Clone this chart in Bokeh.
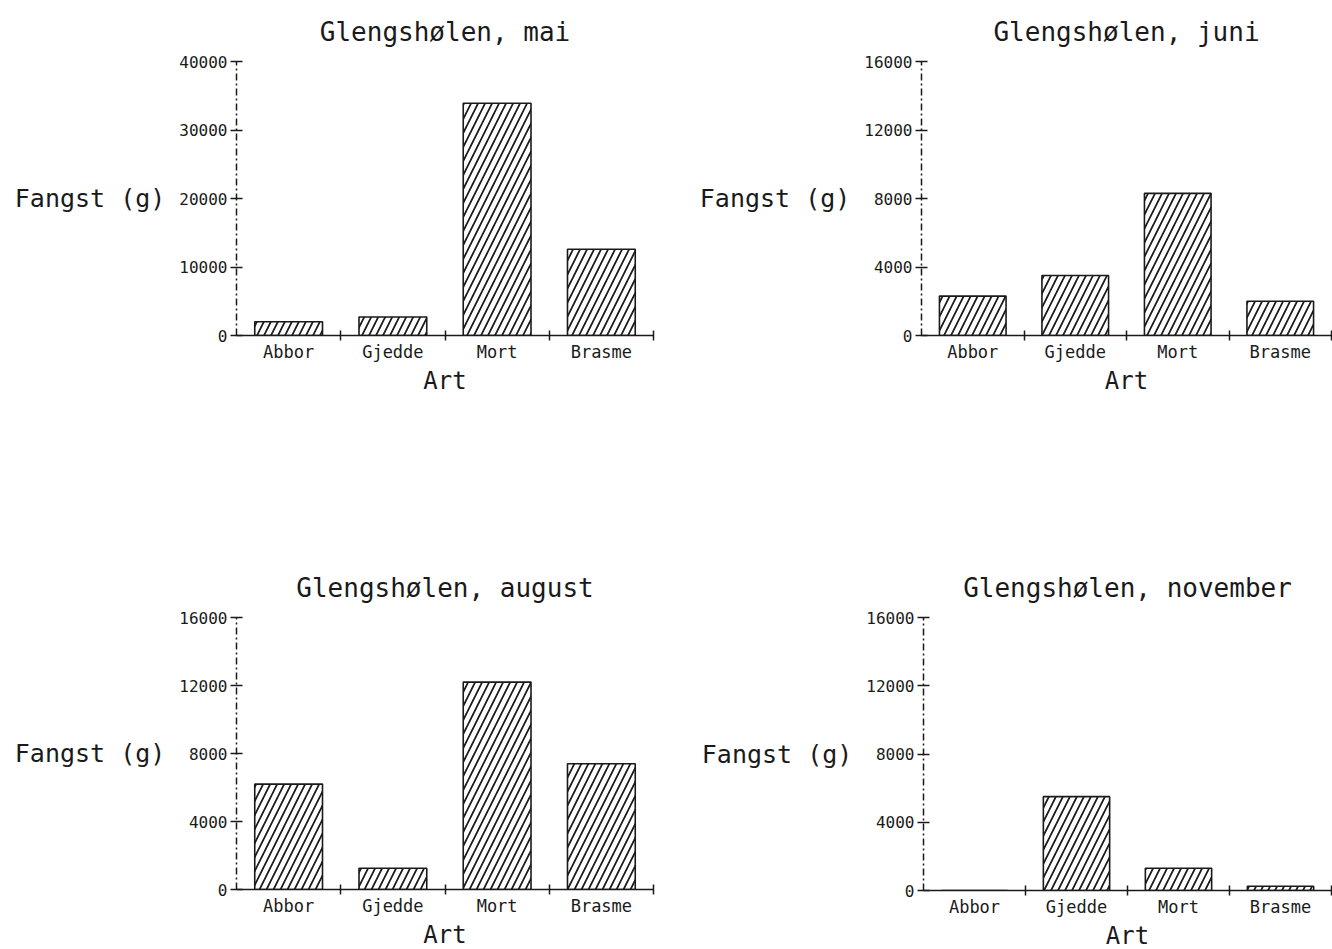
from bokeh.plotting import figure
from bokeh.layouts import column, row
from bokeh.models import Range1d, FixedTicker, Label, NumeralTickFormatter
from bokeh.embed import file_html
from bokeh.resources import INLINE

categories = ["Abbor", "Gjedde", "Mort", "Brasme"]
titles = ["Glengshølen, mai", "Glengshølen, juni",
          "Glengshølen, august", "Glengshølen, november"]
mai = [2000, 2700, 33900, 12600]
juni = [2300, 3500, 8300, 2000]
august = [6200, 1250, 12200, 7400]
november = [0, 5500, 1300, 250]
y_ticks_mai = [0, 10000, 20000, 30000, 40000]
y_ticks_other = [0, 4000, 8000, 12000, 16000]
y_label = "Fangst (g)"
x_label = "Art"

FONT = "DejaVu Sans Mono"
INK = "#1a1a1a"


def panel(title, values, yticks, left, fw, right, top, fh, bottom):
    xs = [i + 0.5 for i in range(len(categories))]
    bounds = [i + 1 for i in range(len(categories))]
    p = figure(frame_width=fw, frame_height=fh,
               min_border_left=left, min_border_right=right,
               min_border_top=top, min_border_bottom=bottom,
               x_range=Range1d(0, len(categories)),
               y_range=Range1d(0, yticks[-1]),
               output_backend="svg", toolbar_location=None)
    p.vbar(x=xs, top=values, width=0.65, fill_color="white",
           line_color=INK, line_width=1.6, hatch_pattern="/",
           hatch_color=INK, hatch_scale=14, hatch_weight=1.7)
    p.xgrid.visible = False
    p.ygrid.visible = False
    p.outline_line_color = None
    p.background_fill_color = "white"
    p.border_fill_color = "white"

    p.title.text = title
    p.title.align = "center"
    p.title.text_font = FONT
    p.title.text_font_size = "26px"
    p.title.text_font_style = "normal"
    p.title.text_color = INK
    p.title.standoff = 29

    xa = p.xaxis[0]
    xa.ticker = FixedTicker(ticks=xs, minor_ticks=bounds)
    xa.major_label_overrides = {x: c for x, c in zip(xs, categories)}
    xa.major_tick_in = 0
    xa.major_tick_out = 0
    xa.minor_tick_in = 5
    xa.minor_tick_out = 5
    xa.minor_tick_line_color = INK
    xa.minor_tick_line_width = 1.5
    xa.axis_line_color = INK
    xa.axis_line_width = 1.5
    xa.major_label_text_font = FONT
    xa.major_label_text_font_size = "17px"
    xa.major_label_text_color = INK
    xa.major_label_standoff = 1
    xa.axis_label = x_label
    xa.axis_label_text_font = FONT
    xa.axis_label_text_font_size = "24px"
    xa.axis_label_text_font_style = "normal"
    xa.axis_label_text_color = INK
    xa.axis_label_standoff = 2

    ya = p.yaxis[0]
    ya.ticker = FixedTicker(ticks=yticks, minor_ticks=[])
    ya.formatter = NumeralTickFormatter(format="0")
    ya.major_tick_in = 6
    ya.major_tick_out = 6
    ya.major_tick_line_color = INK
    ya.major_tick_line_width = 1.5
    ya.minor_tick_in = 0
    ya.minor_tick_out = 0
    ya.axis_line_color = INK
    ya.axis_line_width = 1.5
    ya.axis_line_dash = "7 3 2 3"
    ya.major_label_text_font = FONT
    ya.major_label_text_font_size = "16px"
    ya.major_label_text_color = INK
    ya.major_label_standoff = 3
    ok = False
    try:
        ya.axis_label_orientation = "horizontal"
        ok = True
    except Exception:
        ok = False
    if ok:
        ya.axis_label = y_label
        ya.axis_label_text_font = FONT
        ya.axis_label_text_font_size = "25px"
        ya.axis_label_text_font_style = "normal"
        ya.axis_label_text_color = INK
        ya.axis_label_standoff = 11
    else:
        p.add_layout(Label(x=-72, y=yticks[-1] / 2, x_units="screen",
                           y_units="data", text=y_label, text_align="right",
                           text_baseline="middle", text_font=FONT,
                           text_font_size="25px", text_color=INK))
    return p


p1 = panel(titles[0], mai, y_ticks_mai, 236, 417, 13, 61, 274, 139)
p2 = panel(titles[1], juni, y_ticks_other, 255, 410, 1, 60, 274, 140)
p3 = panel(titles[2], august, y_ticks_other, 236, 417, 13, 142, 272, 60)
p4 = panel(titles[3], november, y_ticks_other, 257, 408, 1, 141, 273, 60)

layout = column(row(p1, p2), row(p3, p4))
open("out.html", "w").write(file_html(layout, INLINE))
